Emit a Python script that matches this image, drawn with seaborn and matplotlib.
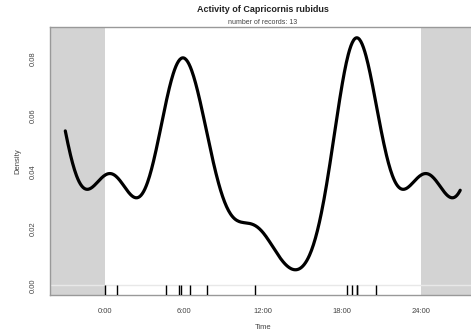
import numpy as np
import pandas as pd
import matplotlib
matplotlib.use("Agg")
import matplotlib.pyplot as plt
import seaborn as sns

# ---- data (record times, hours) ----
record_times = [0.0, 0.9, 4.68, 5.6, 5.8, 6.45, 7.75, 11.4, 18.4, 18.8, 19.15, 19.15, 20.57]
tick_hours = [0, 6, 12, 18, 24]
tick_labels = ["0:00", "6:00", "12:00", "18:00", "24:00"]
y_ticks = [0.00, 0.02, 0.04, 0.06, 0.08]
title = "Activity of Capricornis rubidus"
subtitle = "number of records: 13"
kappa = 6.0  # von Mises kernel concentration

# ---- circular kernel density (as in R 'overlap' densityPlot) ----
grid = np.linspace(-3, 27, 601)
theta = np.asarray(record_times) / 24 * 2 * np.pi
g = grid / 24 * 2 * np.pi
dens = np.exp(kappa * np.cos(g[:, None] - theta[None, :])).sum(axis=1)
dens = dens / (2 * np.pi * np.i0(kappa)) / len(record_times) * (2 * np.pi / 24)
df = pd.DataFrame({"Time": grid, "Density": dens})

sns.set_style("white")
plt.rcParams["font.family"] = ["Liberation Sans", "DejaVu Sans"]

W, H = 471, 333
fig = plt.figure(figsize=(W / 100, H / 100), dpi=100)
left, right, top, bottom = 49.5, 476, 26.7, 295
ax = fig.add_axes([left / W, 1 - bottom / H, (right - left) / W, (bottom - top) / H])

xlo, xhi = -4.2, 28.2
ylo, yhi = -0.0034, 0.0914
ax.axvspan(xlo, 0, color="#d3d3d3", lw=0, zorder=0)
ax.axvspan(24, xhi, color="#d3d3d3", lw=0, zorder=0)
ax.axhline(0, color="#e8e8e8", lw=1, zorder=1)

sns.lineplot(data=df, x="Time", y="Density", color="black", lw=2.3, ax=ax, zorder=3)
sns.rugplot(x=record_times, height=0.037, color="black", lw=2.2, ax=ax, expand_margins=False, zorder=4)

ax.set_xlim(xlo, xhi)
ax.set_ylim(ylo, yhi)
ax.set_xticks(tick_hours)
ax.set_xticklabels(tick_labels)
ax.set_yticks(y_ticks)
ax.set_yticklabels([f"{v:.2f}" for v in y_ticks], rotation=90, va="center")
ax.tick_params(axis="both", direction="out", length=3.5, width=0.8, color="#888888",
               labelsize=5.5, labelcolor="#444444", pad=6)
ax.tick_params(axis="x", pad=6)
for s in ax.spines.values():
    s.set_color("#999999")
    s.set_linewidth(1.0)
ax.set_xlabel("Time", fontsize=5.5, color="#444444", labelpad=6)
ax.set_ylabel("Density", fontsize=5.5, color="#444444", labelpad=6)

cx = ((left + right) / 2) / W
fig.text(cx, 1 - 10 / H, title, ha="center", va="center", fontsize=6.5, fontweight="bold", color="#222222")
fig.text(cx, 1 - 23 / H, subtitle, ha="center", va="center", fontsize=5, color="#444444")

fig.savefig("out.png", dpi=100)
